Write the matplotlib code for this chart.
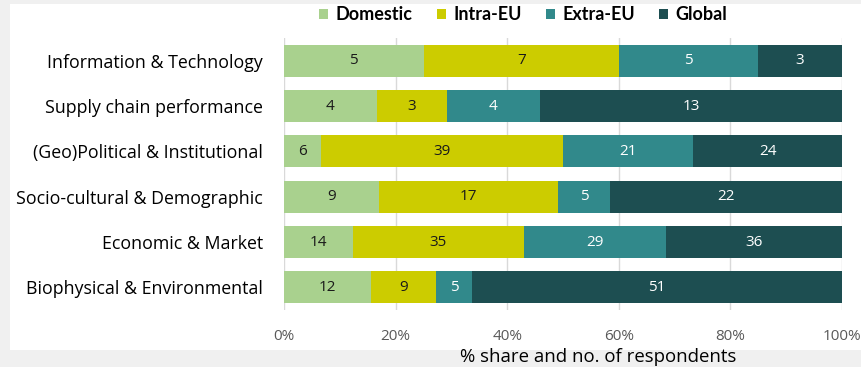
import matplotlib.pyplot as plt
from matplotlib.patches import Rectangle
import numpy as np

# categories (bottom to top) and respondent counts per origin type
categories = [
    "Biophysical & Environmental",
    "Economic & Market",
    "Socio-cultural & Demographic",
    "(Geo)Political & Institutional",
    "Supply chain performance",
    "Information & Technology",
]
domestic = [12, 14, 9, 6, 4, 5]
intra_eu = [9, 35, 17, 39, 3, 7]
extra_eu = [5, 29, 5, 21, 4, 5]
global_ = [51, 36, 22, 24, 13, 3]

series = [
    ("Domestic", domestic, "#a9d18e", "#1a1a1a"),
    ("Intra-EU", intra_eu, "#cccc00", "#1a1a1a"),
    ("Extra-EU", extra_eu, "#31898b", "white"),
    ("Global", global_, "#1d4e51", "white"),
]
xticks = [0, 20, 40, 60, 80, 100]

plt.rcParams["font.family"] = ["Open Sans", "DejaVu Sans"]

fig = plt.figure(figsize=(8.62, 3.67), dpi=100)
fig.patch.set_facecolor("#f0f0f0")
# white chart panel behind the axes
fig.patches.append(Rectangle((10 / 862, 17 / 367), 1 - 10 / 862, 346 / 367,
                             transform=fig.transFigure, facecolor="white",
                             edgecolor="none", zorder=-5))

ax = fig.add_axes([284 / 862, 1 - 310 / 367, 558 / 862, 272 / 367])
ax.set_zorder(2)
ax.set_facecolor("none")

totals = np.sum([s[1] for s in series], axis=0)
y = np.arange(len(categories))
left = np.zeros(len(categories))
for name, vals, color, tcolor in series:
    share = np.array(vals) / totals * 100
    ax.barh(y, share, left=left, height=0.7, color=color, label=name, zorder=2)
    for yi, (l, w, v) in enumerate(zip(left, share, vals)):
        ax.text(l + w / 2, yi, str(v), ha="center", va="center",
                fontsize=11, color=tcolor, zorder=3)
    left += share

ax.set_xlim(0, 100)
ax.set_ylim(-0.5, len(categories) - 0.5)
ax.set_xticks(xticks)
ax.set_xticklabels([f"{t}%" for t in xticks], color="#595959", fontsize=11)
ax.set_yticks(y)
ax.set_yticklabels(categories, fontsize=12.8)
ax.tick_params(length=0)
ax.tick_params(axis="x", pad=14)
ax.tick_params(axis="y", pad=15)
ax.grid(axis="x", color="#d9d9d9", linewidth=1, zorder=0)
for s in ax.spines.values():
    s.set_visible(False)

leg = fig.legend(loc="center", bbox_to_anchor=(0.607, 1 - 15 / 367), ncol=4,
                 frameon=False, handlelength=0.5, handleheight=0.5,
                 handletextpad=0.4, columnspacing=1.35,
                 prop={"family": ["Lato", "DejaVu Sans"], "weight": "bold",
                       "size": 13})

fig.text(598 / 862, 1 - 357 / 367, "% share and no. of respondents",
         ha="center", va="center", fontsize=13.4)

fig.savefig("out.png", dpi=100, facecolor=fig.get_facecolor())
